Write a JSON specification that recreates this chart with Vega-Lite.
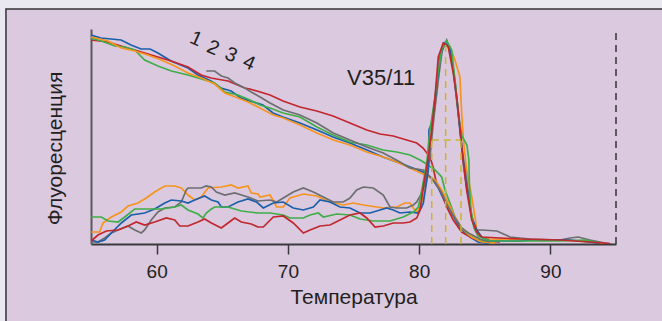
{
  "$schema": "https://vega.github.io/schema/vega-lite/v6.json",
  "width": 525,
  "height": 215,
  "autosize": {"type": "none"},
  "padding": {"left": 91, "top": 29, "right": 46, "bottom": 77},
  "background": "#dbc9e0",
  "config": {
    "view": {"stroke": null},
    "font": "Liberation Sans",
    "axis": {"grid": false}
  },
  "datasets": {
    "curves": [
      {"c":"blue","t":"m","x":55.00,"y":209},{"c":"blue","t":"m","x":55.76,"y":206},{"c":"blue","t":"m","x":57.29,"y":204},{"c":"blue","t":"m","x":58.05,"y":199},{"c":"blue","t":"m","x":58.81,"y":195},{"c":"blue","t":"m","x":59.50,"y":195},{"c":"blue","t":"m","x":60.10,"y":191},{"c":"blue","t":"m","x":61.10,"y":183},{"c":"blue","t":"m","x":62.39,"y":176},{"c":"blue","t":"m","x":63.15,"y":169},{"c":"blue","t":"m","x":64.14,"y":163},{"c":"blue","t":"m","x":64.90,"y":156},{"c":"blue","t":"m","x":65.67,"y":153},{"c":"blue","t":"m","x":66.43,"y":146},{"c":"blue","t":"m","x":67.11,"y":143},{"c":"blue","t":"m","x":68.10,"y":139},{"c":"blue","t":"m","x":68.87,"y":131},{"c":"blue","t":"m","x":69.63,"y":127},{"c":"blue","t":"m","x":70.92,"y":121},{"c":"blue","t":"m","x":72.22,"y":114},{"c":"blue","t":"m","x":73.44,"y":107},{"c":"blue","t":"m","x":74.73,"y":101},{"c":"blue","t":"m","x":76.03,"y":94},{"c":"blue","t":"m","x":77.25,"y":87},{"c":"blue","t":"m","x":78.92,"y":79},{"c":"blue","t":"m","x":80.30,"y":72},{"c":"blue","t":"m","x":80.96,"y":66},{"c":"blue","t":"m","x":81.46,"y":56},{"c":"blue","t":"m","x":81.97,"y":42},{"c":"blue","t":"m","x":82.48,"y":31},{"c":"blue","t":"m","x":82.99,"y":19},{"c":"blue","t":"m","x":83.50,"y":11},{"c":"blue","t":"m","x":84.01,"y":6},{"c":"blue","t":"m","x":84.49,"y":2},{"c":"blue","t":"m","x":85.40,"y":0.5},

      {"c":"red","t":"m","x":55.00,"y":204},{"c":"red","t":"m","x":56.30,"y":202},{"c":"red","t":"m","x":57.29,"y":198},{"c":"red","t":"m","x":58.58,"y":193},{"c":"red","t":"m","x":59.85,"y":188},{"c":"red","t":"m","x":61.10,"y":183},{"c":"red","t":"m","x":62.39,"y":177},{"c":"red","t":"m","x":63.40,"y":169},{"c":"red","t":"m","x":64.14,"y":166},{"c":"red","t":"m","x":65.44,"y":163},{"c":"red","t":"m","x":66.71,"y":156},{"c":"red","t":"m","x":67.11,"y":155},{"c":"red","t":"m","x":68.64,"y":149},{"c":"red","t":"m","x":69.63,"y":143},{"c":"red","t":"m","x":70.92,"y":137},{"c":"red","t":"m","x":72.20,"y":133},{"c":"red","t":"m","x":73.44,"y":128},{"c":"red","t":"m","x":74.73,"y":121},{"c":"red","t":"m","x":76.01,"y":114},{"c":"red","t":"m","x":77.02,"y":110},{"c":"red","t":"m","x":78.03,"y":108},{"c":"red","t":"m","x":79.05,"y":104},{"c":"red","t":"m","x":79.82,"y":101},{"c":"red","t":"m","x":80.30,"y":96},{"c":"red","t":"m","x":80.83,"y":87},{"c":"red","t":"m","x":81.06,"y":77},{"c":"red","t":"m","x":81.30,"y":62},{"c":"red","t":"m","x":81.72,"y":51},{"c":"red","t":"m","x":82.10,"y":37},{"c":"red","t":"m","x":82.60,"y":24},{"c":"red","t":"m","x":83.24,"y":12},{"c":"red","t":"m","x":84.01,"y":6},{"c":"red","t":"m","x":84.77,"y":3},{"c":"red","t":"m","x":86.16,"y":2},

      {"c":"green","t":"m","x":55.00,"y":206},{"c":"green","t":"m","x":55.79,"y":203},{"c":"green","t":"m","x":56.81,"y":198},{"c":"green","t":"m","x":57.57,"y":197},{"c":"green","t":"m","x":58.33,"y":194},{"c":"green","t":"m","x":59.09,"y":184},{"c":"green","t":"m","x":60.10,"y":178},{"c":"green","t":"m","x":61.12,"y":173},{"c":"green","t":"m","x":62.39,"y":169},{"c":"green","t":"m","x":63.66,"y":164},{"c":"green","t":"m","x":64.42,"y":161},{"c":"green","t":"m","x":65.19,"y":152},{"c":"green","t":"m","x":66.20,"y":149},{"c":"green","t":"m","x":67.11,"y":144},{"c":"green","t":"m","x":67.88,"y":139},{"c":"green","t":"m","x":68.64,"y":136},{"c":"green","t":"m","x":69.63,"y":131},{"c":"green","t":"m","x":70.92,"y":127},{"c":"green","t":"m","x":72.21,"y":117},{"c":"green","t":"m","x":73.44,"y":109},{"c":"green","t":"m","x":74.73,"y":102},{"c":"green","t":"m","x":76.01,"y":99},{"c":"green","t":"m","x":77.25,"y":94},{"c":"green","t":"m","x":78.29,"y":92},{"c":"green","t":"m","x":79.30,"y":89},{"c":"green","t":"m","x":80.07,"y":84},{"c":"green","t":"m","x":80.45,"y":81},{"c":"green","t":"m","x":81.21,"y":74},{"c":"green","t":"m","x":81.72,"y":67},{"c":"green","t":"m","x":81.97,"y":54},{"c":"green","t":"m","x":82.35,"y":41},{"c":"green","t":"m","x":82.73,"y":27},{"c":"green","t":"m","x":83.24,"y":16},{"c":"green","t":"m","x":83.75,"y":9},{"c":"green","t":"m","x":84.51,"y":4},{"c":"green","t":"m","x":85.40,"y":1},

      {"c":"orange","t":"m","x":55.00,"y":207},{"c":"orange","t":"m","x":56.30,"y":203},{"c":"orange","t":"m","x":57.31,"y":196},{"c":"orange","t":"m","x":58.33,"y":193},{"c":"orange","t":"m","x":59.34,"y":189},{"c":"orange","t":"m","x":60.36,"y":184},{"c":"orange","t":"m","x":61.38,"y":178},{"c":"orange","t":"m","x":62.39,"y":171},{"c":"orange","t":"m","x":63.40,"y":166},{"c":"orange","t":"m","x":64.42,"y":160},{"c":"orange","t":"m","x":65.19,"y":151},{"c":"orange","t":"m","x":66.20,"y":146},{"c":"orange","t":"m","x":66.96,"y":142},{"c":"orange","t":"m","x":67.72,"y":137},{"c":"orange","t":"m","x":68.89,"y":129},{"c":"orange","t":"m","x":69.65,"y":126},{"c":"orange","t":"m","x":70.92,"y":119},{"c":"orange","t":"m","x":72.21,"y":111},{"c":"orange","t":"m","x":73.46,"y":104},{"c":"orange","t":"m","x":74.73,"y":99},{"c":"orange","t":"m","x":76.01,"y":92},{"c":"orange","t":"m","x":77.27,"y":87},{"c":"orange","t":"m","x":78.29,"y":82},{"c":"orange","t":"m","x":79.30,"y":76},{"c":"orange","t":"m","x":80.45,"y":69},{"c":"orange","t":"m","x":81.21,"y":64},{"c":"orange","t":"m","x":81.72,"y":54},{"c":"orange","t":"m","x":82.22,"y":41},{"c":"orange","t":"m","x":82.73,"y":27},{"c":"orange","t":"m","x":83.24,"y":16},{"c":"orange","t":"m","x":84.01,"y":7},{"c":"orange","t":"m","x":84.77,"y":2},{"c":"orange","t":"m","x":85.78,"y":1},

      {"c":"gray","t":"m","x":63.78,"y":173},{"c":"gray","t":"m","x":64.42,"y":173},{"c":"gray","t":"m","x":64.93,"y":168},{"c":"gray","t":"m","x":65.44,"y":166},{"c":"gray","t":"m","x":65.95,"y":161},{"c":"gray","t":"m","x":66.71,"y":156},{"c":"gray","t":"m","x":67.21,"y":152},{"c":"gray","t":"m","x":67.88,"y":147},{"c":"gray","t":"m","x":68.64,"y":141},{"c":"gray","t":"m","x":69.65,"y":134},{"c":"gray","t":"m","x":70.92,"y":129},{"c":"gray","t":"m","x":72.21,"y":121},{"c":"gray","t":"m","x":73.46,"y":111},{"c":"gray","t":"m","x":74.73,"y":104},{"c":"gray","t":"m","x":76.01,"y":97},{"c":"gray","t":"m","x":77.27,"y":91},{"c":"gray","t":"m","x":78.54,"y":82},{"c":"gray","t":"m","x":79.30,"y":76},{"c":"gray","t":"m","x":80.32,"y":74},{"c":"gray","t":"m","x":81.21,"y":62},{"c":"gray","t":"m","x":81.72,"y":51},{"c":"gray","t":"m","x":82.22,"y":37},{"c":"gray","t":"m","x":82.73,"y":26},{"c":"gray","t":"m","x":83.24,"y":16},{"c":"gray","t":"m","x":83.75,"y":11},{"c":"gray","t":"m","x":84.64,"y":5},{"c":"gray","t":"m","x":85.40,"y":2},

      {"c":"orange","t":"d","x":55.02,"y":12},{"c":"orange","t":"d","x":55.66,"y":12},{"c":"orange","t":"d","x":55.91,"y":21},{"c":"orange","t":"d","x":56.55,"y":27},{"c":"orange","t":"d","x":57.31,"y":32},{"c":"orange","t":"d","x":57.82,"y":38},{"c":"orange","t":"d","x":58.58,"y":41},{"c":"orange","t":"d","x":59.21,"y":46},{"c":"orange","t":"d","x":59.85,"y":52},{"c":"orange","t":"d","x":60.62,"y":58},{"c":"orange","t":"d","x":61.38,"y":58},{"c":"orange","t":"d","x":61.88,"y":56},{"c":"orange","t":"d","x":62.39,"y":49},{"c":"orange","t":"d","x":62.90,"y":44},{"c":"orange","t":"d","x":63.40,"y":47},{"c":"orange","t":"d","x":63.91,"y":56},{"c":"orange","t":"d","x":64.93,"y":57},{"c":"orange","t":"d","x":65.69,"y":59},{"c":"orange","t":"d","x":66.20,"y":56},{"c":"orange","t":"d","x":66.96,"y":58},{"c":"orange","t":"d","x":67.21,"y":51},{"c":"orange","t":"d","x":67.72,"y":50},{"c":"orange","t":"d","x":67.88,"y":47},{"c":"orange","t":"d","x":68.64,"y":49},{"c":"orange","t":"d","x":69.15,"y":37},{"c":"orange","t":"d","x":69.65,"y":37},{"c":"orange","t":"d","x":70.16,"y":46},{"c":"orange","t":"d","x":71.18,"y":50},{"c":"orange","t":"d","x":72.20,"y":48},{"c":"orange","t":"d","x":73.21,"y":42},{"c":"orange","t":"d","x":74.22,"y":39},{"c":"orange","t":"d","x":74.98,"y":41},{"c":"orange","t":"d","x":75.75,"y":39},{"c":"orange","t":"d","x":77.27,"y":36},{"c":"orange","t":"d","x":78.29,"y":37},{"c":"orange","t":"d","x":78.92,"y":41},{"c":"orange","t":"d","x":79.30,"y":41},{"c":"orange","t":"d","x":79.56,"y":36},{"c":"orange","t":"d","x":79.82,"y":32},{"c":"orange","t":"d","x":80.07,"y":37},{"c":"orange","t":"d","x":80.32,"y":47},{"c":"orange","t":"d","x":80.58,"y":64},{"c":"orange","t":"d","x":80.96,"y":114},{"c":"orange","t":"d","x":81.34,"y":151},{"c":"orange","t":"d","x":81.67,"y":191},{"c":"orange","t":"d","x":82.02,"y":202},{"c":"orange","t":"d","x":82.35,"y":197},{"c":"orange","t":"d","x":82.73,"y":184},{"c":"orange","t":"d","x":83.11,"y":167},{"c":"orange","t":"d","x":83.24,"y":131},{"c":"orange","t":"d","x":83.37,"y":104},{"c":"orange","t":"d","x":83.62,"y":74},{"c":"orange","t":"d","x":84.01,"y":47},{"c":"orange","t":"d","x":84.26,"y":27},{"c":"orange","t":"d","x":84.39,"y":14},{"c":"orange","t":"d","x":84.64,"y":7},{"c":"orange","t":"d","x":85.40,"y":5},{"c":"orange","t":"d","x":88.45,"y":4},{"c":"orange","t":"d","x":91.12,"y":4},{"c":"orange","t":"d","x":93.02,"y":2},{"c":"orange","t":"d","x":94.16,"y":0.5},

      {"c":"gray","t":"d","x":55.02,"y":2},{"c":"gray","t":"d","x":55.53,"y":2},{"c":"gray","t":"d","x":56.04,"y":6},{"c":"gray","t":"d","x":56.55,"y":11},{"c":"gray","t":"d","x":57.06,"y":14},{"c":"gray","t":"d","x":57.82,"y":18},{"c":"gray","t":"d","x":58.33,"y":14},{"c":"gray","t":"d","x":58.83,"y":11},{"c":"gray","t":"d","x":59.09,"y":14},{"c":"gray","t":"d","x":59.59,"y":24},{"c":"gray","t":"d","x":60.10,"y":32},{"c":"gray","t":"d","x":60.62,"y":36},{"c":"gray","t":"d","x":61.38,"y":37},{"c":"gray","t":"d","x":61.88,"y":42},{"c":"gray","t":"d","x":62.26,"y":54},{"c":"gray","t":"d","x":62.39,"y":56},{"c":"gray","t":"d","x":63.40,"y":56},{"c":"gray","t":"d","x":63.78,"y":58},{"c":"gray","t":"d","x":64.17,"y":57},{"c":"gray","t":"d","x":64.55,"y":52},{"c":"gray","t":"d","x":65.19,"y":49},{"c":"gray","t":"d","x":65.95,"y":51},{"c":"gray","t":"d","x":66.96,"y":47},{"c":"gray","t":"d","x":67.72,"y":43},{"c":"gray","t":"d","x":68.64,"y":44},{"c":"gray","t":"d","x":69.15,"y":42},{"c":"gray","t":"d","x":69.65,"y":46},{"c":"gray","t":"d","x":70.41,"y":52},{"c":"gray","t":"d","x":71.18,"y":56},{"c":"gray","t":"d","x":71.94,"y":52},{"c":"gray","t":"d","x":72.70,"y":47},{"c":"gray","t":"d","x":73.46,"y":42},{"c":"gray","t":"d","x":74.22,"y":42},{"c":"gray","t":"d","x":74.73,"y":46},{"c":"gray","t":"d","x":75.24,"y":54},{"c":"gray","t":"d","x":75.75,"y":57},{"c":"gray","t":"d","x":76.51,"y":56},{"c":"gray","t":"d","x":77.27,"y":49},{"c":"gray","t":"d","x":77.78,"y":37},{"c":"gray","t":"d","x":78.29,"y":36},{"c":"gray","t":"d","x":79.05,"y":36},{"c":"gray","t":"d","x":79.56,"y":39},{"c":"gray","t":"d","x":79.82,"y":42},{"c":"gray","t":"d","x":80.20,"y":51},{"c":"gray","t":"d","x":80.45,"y":60},{"c":"gray","t":"d","x":80.83,"y":87},{"c":"gray","t":"d","x":81.08,"y":121},{"c":"gray","t":"d","x":81.46,"y":164},{"c":"gray","t":"d","x":81.76,"y":194},{"c":"gray","t":"d","x":82.10,"y":204},{"c":"gray","t":"d","x":82.35,"y":194},{"c":"gray","t":"d","x":82.73,"y":164},{"c":"gray","t":"d","x":82.99,"y":131},{"c":"gray","t":"d","x":83.24,"y":97},{"c":"gray","t":"d","x":83.62,"y":64},{"c":"gray","t":"d","x":84.01,"y":27},{"c":"gray","t":"d","x":84.26,"y":14},{"c":"gray","t":"d","x":84.77,"y":14},{"c":"gray","t":"d","x":85.93,"y":13},{"c":"gray","t":"d","x":86.92,"y":7},{"c":"gray","t":"d","x":88.45,"y":5},{"c":"gray","t":"d","x":90.73,"y":4},{"c":"gray","t":"d","x":91.50,"y":6},{"c":"gray","t":"d","x":92.11,"y":7},{"c":"gray","t":"d","x":93.02,"y":4},{"c":"gray","t":"d","x":94.16,"y":1},{"c":"gray","t":"d","x":94.70,"y":0},

      {"c":"blue","t":"d","x":55.02,"y":4},{"c":"blue","t":"d","x":55.53,"y":2},{"c":"blue","t":"d","x":56.04,"y":4},{"c":"blue","t":"d","x":56.55,"y":11},{"c":"blue","t":"d","x":57.31,"y":21},{"c":"blue","t":"d","x":58.07,"y":29},{"c":"blue","t":"d","x":59.09,"y":31},{"c":"blue","t":"d","x":59.85,"y":35},{"c":"blue","t":"d","x":60.62,"y":41},{"c":"blue","t":"d","x":61.12,"y":44},{"c":"blue","t":"d","x":61.88,"y":43},{"c":"blue","t":"d","x":62.39,"y":41},{"c":"blue","t":"d","x":62.90,"y":44},{"c":"blue","t":"d","x":63.66,"y":48},{"c":"blue","t":"d","x":64.17,"y":44},{"c":"blue","t":"d","x":64.68,"y":42},{"c":"blue","t":"d","x":64.93,"y":37},{"c":"blue","t":"d","x":65.44,"y":37},{"c":"blue","t":"d","x":66.20,"y":42},{"c":"blue","t":"d","x":66.96,"y":45},{"c":"blue","t":"d","x":67.62,"y":42},{"c":"blue","t":"d","x":68.13,"y":36},{"c":"blue","t":"d","x":68.89,"y":41},{"c":"blue","t":"d","x":69.65,"y":42},{"c":"blue","t":"d","x":70.41,"y":36},{"c":"blue","t":"d","x":71.18,"y":34},{"c":"blue","t":"d","x":71.94,"y":37},{"c":"blue","t":"d","x":72.45,"y":44},{"c":"blue","t":"d","x":73.21,"y":42},{"c":"blue","t":"d","x":73.97,"y":37},{"c":"blue","t":"d","x":74.73,"y":36},{"c":"blue","t":"d","x":75.50,"y":31},{"c":"blue","t":"d","x":76.26,"y":31},{"c":"blue","t":"d","x":77.02,"y":34},{"c":"blue","t":"d","x":77.53,"y":36},{"c":"blue","t":"d","x":78.03,"y":34},{"c":"blue","t":"d","x":78.54,"y":31},{"c":"blue","t":"d","x":79.30,"y":32},{"c":"blue","t":"d","x":79.94,"y":31},{"c":"blue","t":"d","x":80.20,"y":37},{"c":"blue","t":"d","x":80.32,"y":41},{"c":"blue","t":"d","x":80.70,"y":74},{"c":"blue","t":"d","x":80.75,"y":114},{"c":"blue","t":"d","x":80.96,"y":121},{"c":"blue","t":"d","x":81.34,"y":157},{"c":"blue","t":"d","x":81.59,"y":187},{"c":"blue","t":"d","x":81.97,"y":201},{"c":"blue","t":"d","x":82.35,"y":197},{"c":"blue","t":"d","x":82.60,"y":174},{"c":"blue","t":"d","x":82.86,"y":144},{"c":"blue","t":"d","x":83.11,"y":114},{"c":"blue","t":"d","x":83.37,"y":81},{"c":"blue","t":"d","x":83.62,"y":57},{"c":"blue","t":"d","x":84.01,"y":27},{"c":"blue","t":"d","x":84.39,"y":14},{"c":"blue","t":"d","x":84.77,"y":7},{"c":"blue","t":"d","x":85.40,"y":3},{"c":"blue","t":"d","x":87.69,"y":3},{"c":"blue","t":"d","x":88.45,"y":4},{"c":"blue","t":"d","x":91.50,"y":4},{"c":"blue","t":"d","x":93.02,"y":2},{"c":"blue","t":"d","x":93.78,"y":0.5},

      {"c":"green","t":"d","x":55.02,"y":27},{"c":"green","t":"d","x":55.79,"y":27},{"c":"green","t":"d","x":56.30,"y":23},{"c":"green","t":"d","x":57.06,"y":22},{"c":"green","t":"d","x":57.57,"y":27},{"c":"green","t":"d","x":58.33,"y":35},{"c":"green","t":"d","x":59.34,"y":35},{"c":"green","t":"d","x":60.36,"y":35},{"c":"green","t":"d","x":61.38,"y":37},{"c":"green","t":"d","x":61.88,"y":39},{"c":"green","t":"d","x":62.39,"y":34},{"c":"green","t":"d","x":63.15,"y":30},{"c":"green","t":"d","x":63.53,"y":26},{"c":"green","t":"d","x":63.78,"y":31},{"c":"green","t":"d","x":64.17,"y":35},{"c":"green","t":"d","x":64.42,"y":37},{"c":"green","t":"d","x":65.44,"y":37},{"c":"green","t":"d","x":66.45,"y":33},{"c":"green","t":"d","x":67.72,"y":31},{"c":"green","t":"d","x":68.64,"y":31},{"c":"green","t":"d","x":69.65,"y":29},{"c":"green","t":"d","x":70.16,"y":26},{"c":"green","t":"d","x":71.18,"y":26},{"c":"green","t":"d","x":71.69,"y":29},{"c":"green","t":"d","x":72.32,"y":31},{"c":"green","t":"d","x":72.70,"y":27},{"c":"green","t":"d","x":73.72,"y":30},{"c":"green","t":"d","x":74.73,"y":29},{"c":"green","t":"d","x":75.50,"y":25},{"c":"green","t":"d","x":76.51,"y":23},{"c":"green","t":"d","x":77.78,"y":23},{"c":"green","t":"d","x":78.79,"y":27},{"c":"green","t":"d","x":79.56,"y":32},{"c":"green","t":"d","x":79.94,"y":37},{"c":"green","t":"d","x":80.22,"y":55},{"c":"green","t":"d","x":80.58,"y":81},{"c":"green","t":"d","x":80.83,"y":114},{"c":"green","t":"d","x":81.21,"y":147},{"c":"green","t":"d","x":81.46,"y":174},{"c":"green","t":"d","x":81.72,"y":194},{"c":"green","t":"d","x":82.10,"y":203},{"c":"green","t":"d","x":82.48,"y":194},{"c":"green","t":"d","x":82.73,"y":164},{"c":"green","t":"d","x":83.03,"y":126},{"c":"green","t":"d","x":83.26,"y":108},{"c":"green","t":"d","x":83.64,"y":99},{"c":"green","t":"d","x":83.79,"y":84},{"c":"green","t":"d","x":83.83,"y":59},{"c":"green","t":"d","x":83.95,"y":34},{"c":"green","t":"d","x":84.18,"y":16},{"c":"green","t":"d","x":84.49,"y":8},{"c":"green","t":"d","x":85.40,"y":3},{"c":"green","t":"d","x":90.73,"y":3},{"c":"green","t":"d","x":92.64,"y":4},{"c":"green","t":"d","x":93.78,"y":1},

      {"c":"red","t":"d","x":55.02,"y":3},{"c":"red","t":"d","x":55.53,"y":9},{"c":"red","t":"d","x":56.17,"y":13},{"c":"red","t":"d","x":57.06,"y":14},{"c":"red","t":"d","x":57.82,"y":18},{"c":"red","t":"d","x":58.45,"y":22},{"c":"red","t":"d","x":59.09,"y":19},{"c":"red","t":"d","x":59.85,"y":22},{"c":"red","t":"d","x":60.74,"y":26},{"c":"red","t":"d","x":61.38,"y":24},{"c":"red","t":"d","x":61.76,"y":18},{"c":"red","t":"d","x":62.39,"y":18},{"c":"red","t":"d","x":63.15,"y":22},{"c":"red","t":"d","x":63.66,"y":25},{"c":"red","t":"d","x":64.17,"y":21},{"c":"red","t":"d","x":64.93,"y":16},{"c":"red","t":"d","x":65.44,"y":21},{"c":"red","t":"d","x":65.95,"y":26},{"c":"red","t":"d","x":66.45,"y":22},{"c":"red","t":"d","x":67.21,"y":20},{"c":"red","t":"d","x":67.72,"y":17},{"c":"red","t":"d","x":68.13,"y":17},{"c":"red","t":"d","x":68.89,"y":27},{"c":"red","t":"d","x":69.65,"y":28},{"c":"red","t":"d","x":70.41,"y":21},{"c":"red","t":"d","x":71.18,"y":11},{"c":"red","t":"d","x":71.69,"y":14},{"c":"red","t":"d","x":72.45,"y":18},{"c":"red","t":"d","x":73.21,"y":19},{"c":"red","t":"d","x":73.97,"y":24},{"c":"red","t":"d","x":74.73,"y":29},{"c":"red","t":"d","x":75.50,"y":31},{"c":"red","t":"d","x":76.01,"y":26},{"c":"red","t":"d","x":76.64,"y":17},{"c":"red","t":"d","x":77.27,"y":18},{"c":"red","t":"d","x":78.03,"y":21},{"c":"red","t":"d","x":78.79,"y":21},{"c":"red","t":"d","x":79.30,"y":22},{"c":"red","t":"d","x":79.82,"y":26},{"c":"red","t":"d","x":80.07,"y":34},{"c":"red","t":"d","x":80.32,"y":57},{"c":"red","t":"d","x":80.70,"y":87},{"c":"red","t":"d","x":80.96,"y":114},{"c":"red","t":"d","x":81.21,"y":147},{"c":"red","t":"d","x":81.46,"y":187},{"c":"red","t":"d","x":81.84,"y":201},{"c":"red","t":"d","x":82.22,"y":197},{"c":"red","t":"d","x":82.60,"y":171},{"c":"red","t":"d","x":82.86,"y":147},{"c":"red","t":"d","x":83.11,"y":117},{"c":"red","t":"d","x":83.37,"y":81},{"c":"red","t":"d","x":83.62,"y":54},{"c":"red","t":"d","x":84.01,"y":24},{"c":"red","t":"d","x":84.39,"y":12},{"c":"red","t":"d","x":84.77,"y":7},{"c":"red","t":"d","x":86.16,"y":6},{"c":"red","t":"d","x":87.69,"y":5},{"c":"red","t":"d","x":90.73,"y":4},{"c":"red","t":"d","x":93.02,"y":2},{"c":"red","t":"d","x":94.54,"y":0.5}
    ],
    "strips": [
      {"x": 40, "x2": 130, "y": 235, "y2": 260},
      {"x": 40, "x2": 48.52, "y": 235, "y2": -300}
    ],
    "frame": [{"x": 48.52, "x2": 130, "y": 235, "y2": -300}],
    "halfmax": [
      {"x": 80.96, "x2": 80.96, "y": 0, "y2": 104},
      {"x": 82.02, "x2": 82.02, "y": 0, "y2": 202},
      {"x": 83.19, "x2": 83.19, "y": 0, "y2": 104},
      {"x": 80.96, "x2": 83.19, "y": 104, "y2": 104}
    ],
    "limit": [{"x": 95, "y": 0, "y2": 211}],
    "digits": [
      {"x": 63.0, "y": 205, "t": "1"},
      {"x": 64.30, "y": 196, "t": "2"},
      {"x": 65.67, "y": 189, "t": "3"},
      {"x": 67.04, "y": 181, "t": "4"}
    ],
    "label": [{"x": 77.10, "y": 159, "t": "V35/11"}]
  },
  "encoding": {
    "x": {"field": "x", "type": "quantitative",
      "scale": {"domain": [55, 95], "nice": false, "zero": false},
      "axis": {"values": [60, 70, 80, 90], "title": "Температура", "domainColor": "#3a3a3c", "domainWidth": 2, "tickColor": "#3a3a3c", "tickWidth": 1.5, "tickSize": 10, "labelFontSize": 19, "labelColor": "#231f20", "labelPadding": 8, "titleFontSize": 21, "titleFontWeight": "normal", "titleColor": "#231f20", "titlePadding": 5}},
    "y": {"field": "y", "type": "quantitative",
      "scale": {"domain": [0, 215], "nice": false, "zero": false},
      "axis": {"ticks": false, "labels": false, "title": "Флуоресценция", "domainColor": "#58595b", "domainWidth": 2, "titleFontSize": 21, "titleFontWeight": "normal", "titleColor": "#231f20", "titlePadding": 26, "titleY": 119}}
  },
  "layer": [
    {
      "data": {"name": "strips"},
      "mark": {"type": "rect", "clip": false, "fill": "#e9e7f0", "strokeWidth": 0},
      "encoding": {
        "x2": {"field": "x2"},
        "y2": {"field": "y2"}
      }
    },
    {
      "data": {"name": "frame"},
      "mark": {"type": "rect", "clip": false, "fill": null, "fillOpacity": 0, "stroke": "#333333", "strokeWidth": 1.5},
      "encoding": {
        "x2": {"field": "x2"},
        "y2": {"field": "y2"}
      }
    },
    {
      "data": {"name": "curves"},
      "mark": {"type": "line", "strokeWidth": 1.7, "clip": true},
      "encoding": {
        "color": {"field": "c", "type": "nominal", "legend": null,
          "scale": {"domain": ["red", "blue", "green", "orange", "gray"], "range": ["#c1272d", "#1b5faa", "#3fae49", "#f7941d", "#6d6e70"]}},
        "detail": {"field": "t"}
      }
    },
    {
      "data": {"name": "halfmax"},
      "mark": {"type": "rule", "color": "#c9b52e", "strokeWidth": 1.5, "strokeDash": [7, 5]},
      "encoding": {
        "x2": {"field": "x2"},
        "y2": {"field": "y2"}
      }
    },
    {
      "data": {"name": "limit"},
      "mark": {"type": "rule", "color": "#333333", "strokeWidth": 1.5, "strokeDash": [7, 5]},
      "encoding": {
        "y2": {"field": "y2"}
      }
    },
    {
      "data": {"name": "digits"},
      "mark": {"type": "text", "angle": 24, "fontSize": 20, "color": "#231f20", "align": "center", "baseline": "middle"},
      "encoding": {
        "text": {"field": "t"}
      }
    },
    {
      "data": {"name": "label"},
      "mark": {"type": "text", "fontSize": 22, "color": "#231f20", "align": "center", "baseline": "alphabetic"},
      "encoding": {
        "text": {"field": "t"}
      }
    }
  ]
}
